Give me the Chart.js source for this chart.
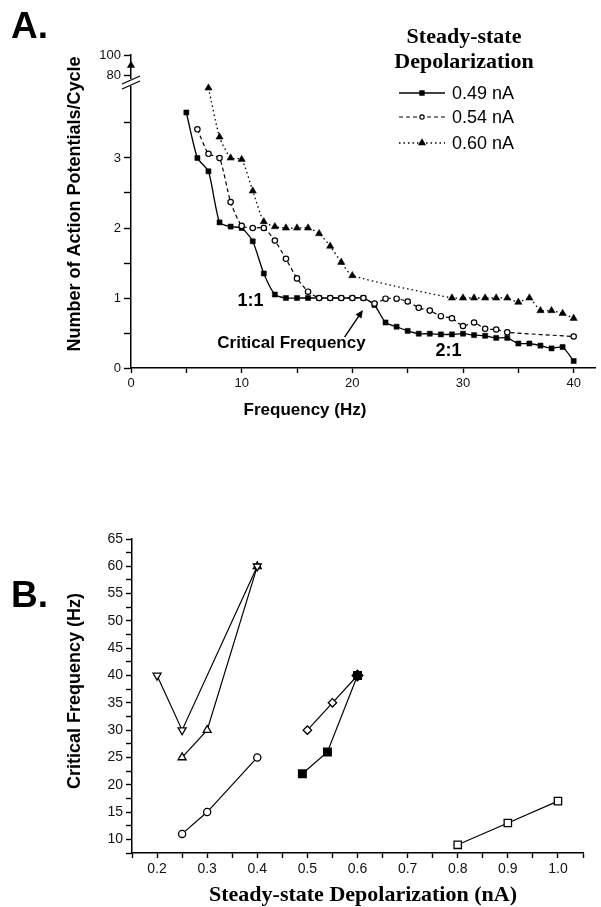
<!DOCTYPE html>
<html>
<head>
<meta charset="utf-8">
<script src="https://cdn.jsdelivr.net/npm/chart.js@4.4.1/dist/chart.umd.min.js"></script>
<style>
  html, body { margin: 0; padding: 0; background: #fff; overflow: hidden; }
  #wrap { position: relative; width: 601px; height: 907px; }
  canvas { position: absolute; left: 0; }
  #chartA { top: 0; }
  #chartB { top: 430px; }
</style>
</head>
<body>
<div id="wrap">
  <canvas id="chartA" width="601" height="430"></canvas>
  <canvas id="chartB" width="601" height="477"></canvas>
</div>
<script>
// ---- Panel A: action potentials per cycle vs. stimulus frequency ----
const freq049 = [5, 6, 7, 8, 9, 10, 11, 12, 13, 14, 15, 16, 17, 18, 19, 20, 21, 22, 23, 24,
                 25, 26, 27, 28, 29, 30, 31, 32, 33, 34, 35, 36, 37, 38, 39, 40];
const ap049 = [3.65, 3.0, 2.81, 2.08, 2.02, 2.0, 1.81, 1.35, 1.05, 1.0, 1.0, 1.0, 1.0, 1.0, 1.0, 1.0, 1.0, 0.9, 0.65, 0.59,
               0.53, 0.49, 0.49, 0.48, 0.48, 0.49, 0.47, 0.46, 0.43, 0.43, 0.35, 0.35, 0.32, 0.28, 0.3, 0.1];

const freq054 = [6, 7, 8, 9, 10, 11, 12, 13, 14, 15, 16, 17, 18, 19, 20, 21, 22, 23, 24, 25,
                 26, 27, 28, 29, 30, 31, 32, 33, 34, 40];
const ap054 = [3.41, 3.06, 3.0, 2.37, 2.03, 2.0, 2.0, 1.82, 1.56, 1.28, 1.09, 1.0, 1.0, 1.0, 1.0, 1.0, 0.92, 0.99, 0.99, 0.95,
               0.86, 0.82, 0.74, 0.71, 0.6, 0.65, 0.56, 0.55, 0.51, 0.45];

const freq060 = [7, 8, 9, 10, 11, 12, 13, 14, 15, 16, 17, 18, 19, 20,
                 29, 30, 31, 32, 33, 34, 35, 36, 37, 38, 39, 40];
const ap060 = [4.0, 3.3, 3.0, 2.98, 2.53, 2.09, 2.02, 2.0, 2.0, 2.0, 1.92, 1.74, 1.51, 1.32,
               1.0, 1.0, 1.0, 1.0, 1.0, 1.0, 0.94, 1.0, 0.82, 0.82, 0.78, 0.71];
// the 0 Hz point sits above the axis break
const freq060High = [0];
const ap060High = [90];

const seriesLabelsA = ['0.49 nA', '0.54 nA', '0.60 nA'];
const xTicksA = [0, 5, 10, 15, 20, 25, 30, 35, 40];
const yTicksA = [0, 0.5, 1, 1.5, 2, 2.5, 3, 3.5];
const yTicksAHigh = [80, 100];

// ---- Panel B: critical frequency vs. steady-state depolarization ----
const downTriX = [0.2, 0.25, 0.4];
const downTriY = [40, 30, 60];
const upTriX = [0.25, 0.3, 0.4];
const upTriY = [25, 30, 60];
const circleX = [0.25, 0.3, 0.4];
const circleY = [11, 15, 25];
const diamondX = [0.5, 0.55, 0.6];
const diamondY = [30, 35, 40];
const filledSqX = [0.49, 0.54, 0.6];
const filledSqY = [22, 26, 40];
const openSqX = [0.8, 0.9, 1.0];
const openSqY = [9, 13, 17];

const xTicksB = [0.15, 0.2, 0.25, 0.3, 0.35, 0.4, 0.45, 0.5, 0.55, 0.6, 0.65, 0.7, 0.75, 0.8, 0.85, 0.9, 0.95, 1.0, 1.05];
const yTicksB = [7.5, 10, 12.5, 15, 17.5, 20, 22.5, 25, 27.5, 30, 32.5, 35, 37.5, 40, 42.5, 45, 47.5, 50, 52.5, 55, 57.5, 60, 62.5, 65];

const SANS = "'Liberation Sans', Arial, sans-serif";
const SERIF = "'Liberation Serif', 'Times New Roman', serif";

function toPoints(xs, ys) {
    return xs.map((x, i) => ({ x: x, y: ys[i] }));
}

function fixedTicks(list) {
    return scale => { scale.ticks = list.map(v => ({ value: v })); };
}

function axisStyle(tickLength) {
    return {
        grid: { drawOnChartArea: false, drawTicks: true, tickLength: tickLength, tickColor: '#000', tickWidth: 1.4 },
        border: { display: true, color: '#000', width: 1.5 }
    };
}

const tickFont = size => ({ family: SANS, size: size });

// Annotations, axis titles, legend and the axis break for panel A
const panelADecor = {
    id: 'panelADecor',
    afterDraw(chart) {
        const { ctx } = chart;
        const x = chart.scales.x;
        const y = chart.scales.y;
        ctx.save();

        // axis break
        const bx = x.left;
        const by = y.top + 2;
        ctx.fillStyle = '#fff';
        ctx.fillRect(bx - 2, by - 4, 4, 7);
        ctx.strokeStyle = '#000';
        ctx.lineWidth = 1.3;
        ctx.beginPath();
        ctx.moveTo(bx - 9, by + 6); ctx.lineTo(bx + 9, by - 2);
        ctx.moveTo(bx - 9, by + 1); ctx.lineTo(bx + 9, by - 7);
        ctx.stroke();

        ctx.fillStyle = '#000';
        ctx.textAlign = 'left';
        ctx.textBaseline = 'alphabetic';
        ctx.font = 'bold 37px ' + SANS;
        ctx.fillText('A.', 11, 38);

        // axis titles
        ctx.textAlign = 'center';
        ctx.textBaseline = 'middle';
        ctx.font = 'bold 17px ' + SANS;
        ctx.fillText('Frequency (Hz)', 305, 410);
        ctx.save();
        ctx.translate(75, 204);
        ctx.rotate(-Math.PI / 2);
        ctx.font = 'bold 18px ' + SANS;
        ctx.fillText('Number of Action Potentials/Cycle', 0, 0);
        ctx.restore();

        // annotations
        ctx.font = 'bold 18px ' + SANS;
        ctx.fillText('1:1', x.getPixelForValue(10.8), y.getPixelForValue(0.95));
        ctx.fillText('2:1', x.getPixelForValue(28.7), y.getPixelForValue(0.24));
        ctx.font = 'bold 17px ' + SANS;
        ctx.fillText('Critical Frequency', x.getPixelForValue(14.5), y.getPixelForValue(0.35));

        const tx = x.getPixelForValue(19.3), ty = y.getPixelForValue(0.44);
        const hx = x.getPixelForValue(20.96), hy = y.getPixelForValue(0.83);
        const ang = Math.atan2(hy - ty, hx - tx);
        ctx.lineWidth = 1.4;
        ctx.beginPath();
        ctx.moveTo(tx, ty);
        ctx.lineTo(hx - 6 * Math.cos(ang), hy - 6 * Math.sin(ang));
        ctx.stroke();
        ctx.beginPath();
        ctx.moveTo(hx, hy);
        ctx.lineTo(hx - 8 * Math.cos(ang) + 3.5 * Math.sin(ang), hy - 8 * Math.sin(ang) - 3.5 * Math.cos(ang));
        ctx.lineTo(hx - 8 * Math.cos(ang) - 3.5 * Math.sin(ang), hy - 8 * Math.sin(ang) + 3.5 * Math.cos(ang));
        ctx.closePath();
        ctx.fill();

        // legend
        ctx.font = 'bold 22px ' + SERIF;
        ctx.fillText('Steady-state', 464, 37);
        ctx.fillText('Depolarization', 464, 62);
        const rows = [93, 117, 143];
        const dsList = chart.data.datasets.slice(0, 3);
        ctx.textAlign = 'left';
        ctx.font = '18px ' + SANS;
        rows.forEach((ry, i) => {
            const ds = dsList[i];
            ctx.strokeStyle = '#000';
            ctx.lineWidth = ds.borderWidth;
            ctx.setLineDash(ds.borderDash || []);
            ctx.beginPath();
            ctx.moveTo(399, ry);
            ctx.lineTo(445, ry);
            ctx.stroke();
            ctx.setLineDash([]);
            ctx.fillStyle = ds.pointBackgroundColor;
            Chart.helpers.drawPoint(ctx, {
                pointStyle: ds.pointStyle, radius: ds.pointRadius * 0.8, rotation: 0, borderWidth: ds.pointBorderWidth
            }, 422, ry);
            ctx.fillStyle = '#000';
            ctx.fillText(seriesLabelsA[i], 452, ry + 1);
        });
        ctx.restore();
    }
};

const lineA = {
    borderColor: '#000',
    pointBorderColor: '#000',
    tension: 0.2,
    clip: false
};

new Chart(document.getElementById('chartA'), {
    type: 'line',
    data: {
        datasets: [
            Object.assign({}, lineA, {
                label: seriesLabelsA[0], data: toPoints(freq049, ap049), yAxisID: 'y',
                borderWidth: 1.3, pointStyle: 'rect', pointRadius: 3.6, pointBackgroundColor: '#000',
                pointBorderWidth: 0.5, order: 2
            }),
            Object.assign({}, lineA, {
                label: seriesLabelsA[1], data: toPoints(freq054, ap054), yAxisID: 'y',
                borderWidth: 1.2, borderDash: [4, 3], pointStyle: 'circle', pointRadius: 2.7,
                pointBackgroundColor: '#fff', pointBorderWidth: 1.2, order: 1
            }),
            Object.assign({}, lineA, {
                label: seriesLabelsA[2], data: toPoints(freq060, ap060), yAxisID: 'y',
                borderWidth: 1.3, borderDash: [1.5, 3], pointStyle: 'triangle', pointRadius: 4.2,
                pointBackgroundColor: '#000', pointBorderWidth: 0.5, order: 3
            }),
            Object.assign({}, lineA, {
                label: seriesLabelsA[2] + ' (0 Hz)', data: toPoints(freq060High, ap060High), yAxisID: 'y2',
                showLine: false, borderWidth: 1.3, pointStyle: 'triangle', pointRadius: 4.2,
                pointBackgroundColor: '#000', pointBorderWidth: 0.5, order: 0
            })
        ]
    },
    options: {
        responsive: false,
        animation: false,
        events: [],
        layout: { padding: { left: 0, top: 55, right: 0, bottom: 0 } },
        plugins: { legend: { display: false }, tooltip: { enabled: false } },
        scales: {
            x: Object.assign({
                type: 'linear', min: 0, max: 42,
                afterBuildTicks: fixedTicks(xTicksA),
                afterFit: s => { s.height = 62; },
                ticks: { callback: v => (v % 10 === 0 ? v : ''), color: '#111', font: tickFont(13), padding: 3, maxRotation: 0, autoSkip: false }
            }, axisStyle(5)),
            y: Object.assign({
                type: 'linear', min: 0, max: 4.1, position: 'left', stack: 'apc', stackWeight: 287,
                afterBuildTicks: fixedTicks(yTicksA),
                afterFit: s => { s.width = 131; },
                ticks: { callback: v => (Number.isInteger(v) ? v : ''), color: '#111', font: tickFont(13), padding: 3, autoSkip: false }
            }, axisStyle(7)),
            y2: Object.assign({
                type: 'linear', min: 75, max: 100, position: 'left', stack: 'apc', stackWeight: 26,
                afterBuildTicks: fixedTicks(yTicksAHigh),
                afterFit: s => { s.width = 131; },
                ticks: { color: '#111', font: tickFont(13), padding: 3, autoSkip: false }
            }, axisStyle(7))
        }
    },
    plugins: [panelADecor]
});

// ---- Panel B ----
const panelBDecor = {
    id: 'panelBDecor',
    afterDraw(chart) {
        const { ctx } = chart;
        ctx.save();
        ctx.fillStyle = '#000';
        ctx.textAlign = 'left';
        ctx.textBaseline = 'alphabetic';
        ctx.font = 'bold 37px ' + SANS;
        ctx.fillText('B.', 11, 177);

        ctx.textAlign = 'center';
        ctx.textBaseline = 'middle';
        ctx.font = 'bold 22px ' + SERIF;
        ctx.fillText('Steady-state Depolarization (nA)', 363, 465);
        ctx.translate(75, 261);
        ctx.rotate(-Math.PI / 2);
        ctx.font = 'bold 18px ' + SANS;
        ctx.fillText('Critical Frequency (Hz)', 0, 0);
        ctx.restore();
    }
};

const lineB = {
    borderColor: '#000',
    borderWidth: 1.2,
    pointBorderColor: '#000',
    pointBorderWidth: 1.3,
    tension: 0,
    clip: false
};

new Chart(document.getElementById('chartB'), {
    type: 'line',
    data: {
        datasets: [
            Object.assign({}, lineB, {
                label: 'filled square', data: toPoints(filledSqX, filledSqY),
                pointStyle: 'rect', pointRadius: 5.4, pointBackgroundColor: '#000'
            }),
            Object.assign({}, lineB, {
                label: 'down triangle', data: toPoints(downTriX, downTriY),
                pointStyle: 'triangle', pointRotation: 180, pointRadius: 4.6, pointBackgroundColor: '#fff'
            }),
            Object.assign({}, lineB, {
                label: 'up triangle', data: toPoints(upTriX, upTriY),
                pointStyle: 'triangle', pointRadius: 4.6, pointBackgroundColor: '#fff'
            }),
            Object.assign({}, lineB, {
                label: 'circle', data: toPoints(circleX, circleY),
                pointStyle: 'circle', pointRadius: 3.6, pointBackgroundColor: '#fff'
            }),
            Object.assign({}, lineB, {
                label: 'diamond', data: toPoints(diamondX, diamondY),
                pointStyle: 'rectRot', pointRadius: [4.2, 4.2, 5.4], pointBackgroundColor: ['#fff', '#fff', '#000']
            }),
            Object.assign({}, lineB, {
                label: 'open square', data: toPoints(openSqX, openSqY),
                pointStyle: 'rect', pointRadius: 5.2, pointBackgroundColor: '#fff'
            })
        ]
    },
    options: {
        responsive: false,
        animation: false,
        events: [],
        layout: { padding: { left: 0, top: 109, right: 18, bottom: 0 } },
        plugins: { legend: { display: false }, tooltip: { enabled: false } },
        scales: {
            x: Object.assign({
                type: 'linear', min: 0.15, max: 1.05,
                afterBuildTicks: fixedTicks(xTicksB),
                afterFit: s => { s.height = 54; },
                ticks: {
                    callback: v => (Math.round(v * 100) % 10 === 0 ? v.toFixed(1) : ''),
                    color: '#111', font: tickFont(14), padding: 3, maxRotation: 0, autoSkip: false
                }
            }, axisStyle(5)),
            y: Object.assign({
                type: 'linear', min: 7.5, max: 65,
                afterBuildTicks: fixedTicks(yTicksB),
                afterFit: s => { s.width = 132; },
                ticks: { callback: v => (v % 5 === 0 ? v : ''), color: '#111', font: tickFont(14), padding: 3, autoSkip: false }
            }, axisStyle(6))
        }
    },
    plugins: [panelBDecor]
});
</script>
</body>
</html>
